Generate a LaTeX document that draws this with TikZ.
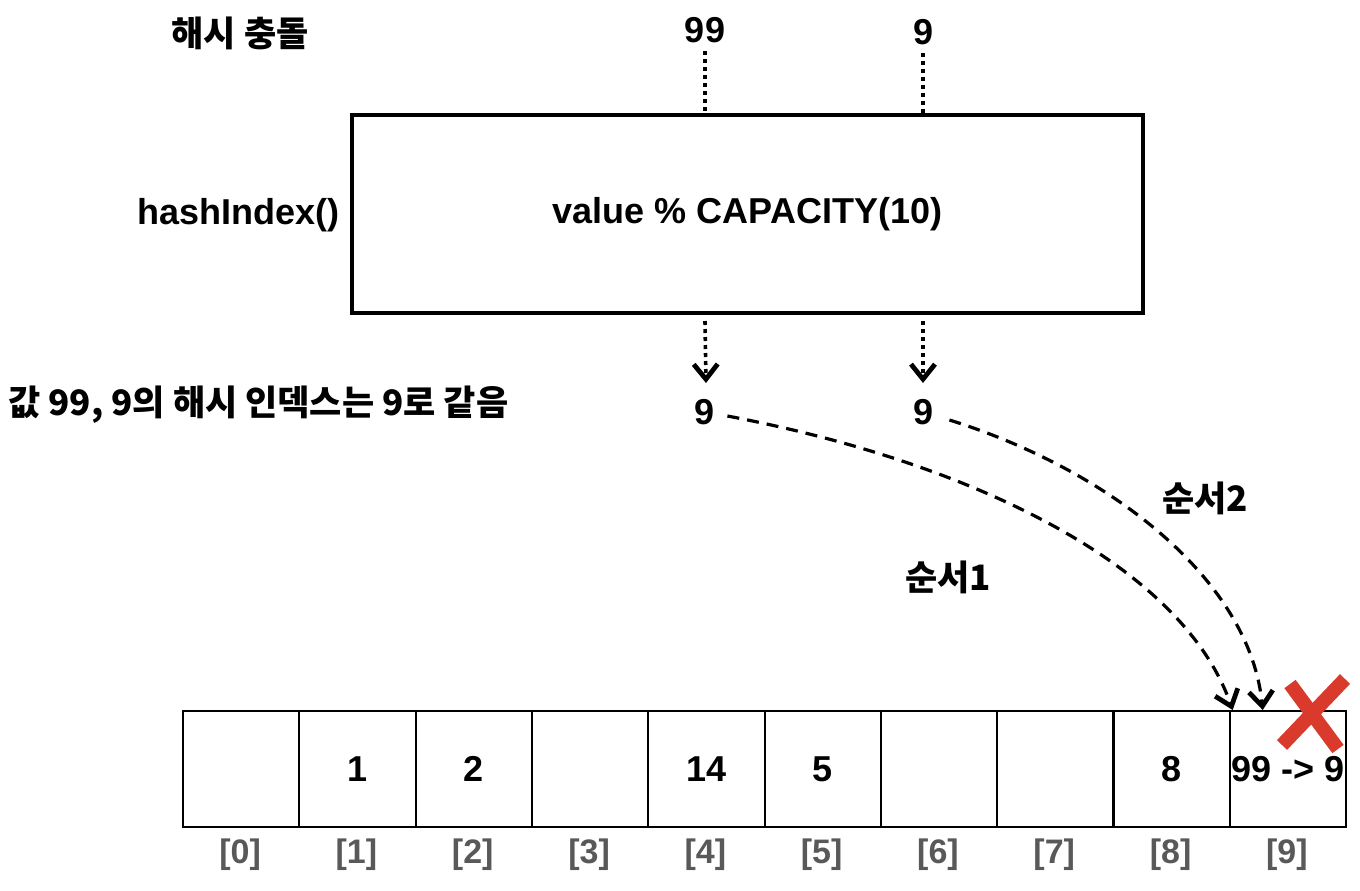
\documentclass[tikz,border=0pt]{standalone}
\usepackage{fontspec}
\setmainfont{Liberation Sans}
\newfontfamily\kr{Noto Sans CJK KR}
\usetikzlibrary{arrows.meta}
\definecolor{xred}{HTML}{D93A2B}
\definecolor{idxgray}{HTML}{595959}
\tikzset{
  txt/.style={inner sep=0pt, font=\fontsize{18}{22}\selectfont\bfseries},
  krtxt/.style={inner sep=0pt, font=\fontsize{17.5}{22}\selectfont\kr\bfseries},
  cellbox/.style={draw, line width=1pt, minimum width=58.2pt, minimum height=58pt, inner sep=0pt, anchor=north west, font=\fontsize{18}{22}\selectfont\bfseries},
  idx/.style={inner sep=0pt, text=idxgray, font=\fontsize{17}{22}\selectfont\bfseries},
  dotline/.style={line width=1.8pt, dash pattern=on 2pt off 2pt},
  dashcurve/.style={line width=1.6pt, dash pattern=on 6pt off 4pt},
  chev/.style={-{Straight Barb[length=7.5pt,width=12pt,line width=2.4pt 0]}}
}
\begin{document}
\begin{tikzpicture}[x=0.5pt,y=-0.5pt]
\useasboundingbox (0,0) rectangle (1360,890);
% top labels
\node[krtxt] (title) at (240,33) {해시 충돌};
\node[txt] (in99) at (705,30) {99};
\node[txt] (in9) at (923,32) {9};
% hash box
\node[draw, line width=2pt, minimum width=395.5pt, minimum height=99pt, inner sep=0pt, txt] (box) at (747.5,214) {value \% CAPACITY(10)};
\node[txt, anchor=east] (hi) at (340,215) {hashIndex()};
\draw[dotline] (in99.south) ++(0,8) -- (box.north -| in99);
\draw[dotline] (in9.south) ++(0,8) -- (box.north -| in9);
% outputs
\node[txt] (out1) at (705,412) {9};
\node[txt] (out2) at (923,412) {9};
\draw[dotline, chev] (box.south -| out1) ++(0,6) -- (706,383);
\draw[dotline, chev] (box.south -| out2) ++(0,6) -- (923,383);
\node[krtxt, anchor=west] (same) at (8,405) {값 99, 9의 해시 인덱스는 9로 같음};
% array cells
\foreach \i/\v in {0/,1/1,2/2,3/,4/14,5/5,6/,7/,8/8,9/{99 -> 9}} {
  \node[cellbox] (c\i) at ({182+116.3*\i},710) {\v};
  \node[idx] (l\i) at ({182+116.3*\i+58.15},855) {[\i]};
}
% curves
\coordinate (t1) at ([xshift=2pt]c9.north west);
\coordinate (t2) at ([xshift=17pt]c9.north west);
\draw[dashcurve, chev] ([xshift=6pt,yshift=-2pt]out1.east) .. controls (960,460) and (1180,560) .. (t1);
\draw[dashcurve, chev] ([xshift=8pt,yshift=-4pt]out2.east) .. controls (1110,470) and (1250,580) .. (t2);
\node[krtxt] (s1) at (948,577) {순서1};
\node[krtxt] (s2) at (1205,498) {순서2};
% red X
\draw[xred, line width=7pt] (1290,684) -- (1338,749);
\draw[xred, line width=7pt] (1345,679) -- (1282,745);
\end{tikzpicture}
\end{document}
